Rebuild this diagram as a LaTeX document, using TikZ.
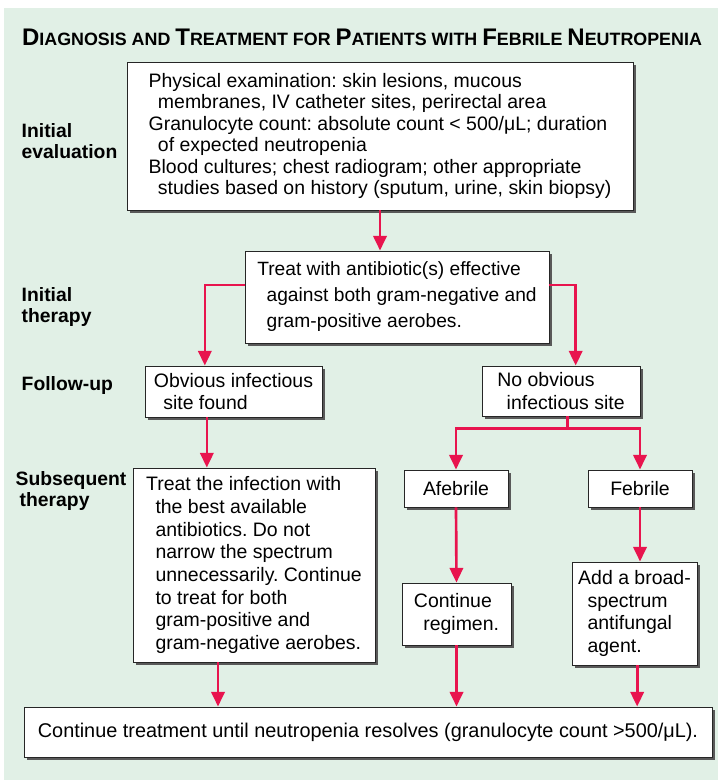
\documentclass[tikz,border=0pt]{standalone}
\usepackage{fontspec}
\setmainfont{Liberation Sans}
\usetikzlibrary{arrows.meta,shadows}

\definecolor{panelgreen}{RGB}{225,240,230}
\definecolor{flowred}{RGB}{232,20,78}

\tikzset{
  stepbox/.style={draw=black!85, line width=0.7pt, fill=white, align=left, inner sep=2pt,
    font=\fontsize{14.6}{17}\selectfont,
    drop shadow={shadow xshift=2pt, shadow yshift=-2pt, fill=black!65, opacity=1}},
  stagelabel/.style={anchor=west, align=left, font=\fontsize{14.5}{16}\selectfont\bfseries},
  flow/.style={draw=flowred, line width=2pt, -{Triangle[width=10pt,length=11pt]}},
  flowline/.style={draw=flowred, line width=2pt}
}

\newcommand{\bigc}[1]{{\fontsize{18}{20}\selectfont #1}}
\newcommand{\ind}{\hspace*{7pt}}

\begin{document}
\frenchspacing
\begin{tikzpicture}[x=0.75pt, y=-0.75pt]
  \useasboundingbox (0,0) rectangle (718,780);
  \fill[panelgreen] (4,8) rectangle (718,780);

  % title
  \node[font=\fontsize{13.4}{16}\selectfont\bfseries] (title) at (362,37)
    {\bigc{D}IAGNOSIS AND \bigc{T}REATMENT FOR \bigc{P}ATIENTS WITH \bigc{F}EBRILE \bigc{N}EUTROPENIA};

  % stage labels
  \node[stagelabel] (lbleval) at (17,141) {Initial\\evaluation};
  \node[stagelabel] (lbltherapy) at (17,307) {Initial\\therapy};
  \node[stagelabel] (lblfollow) at (17,385) {Follow-up};
  \node[stagelabel] (lblsubs) at (11,491) {Subsequent\\\hspace*{3pt}therapy};

  % boxes
  \node[stepbox, minimum width=379.5pt, minimum height=111pt,
        font=\fontsize{14.6}{16.1}\selectfont] (eval) at (380,136)
    {Physical examination: skin lesions, mucous\\
     \ind membranes, IV catheter sites, perirectal area\\
     Granulocyte count: absolute count < 500/μL; duration\\
     \ind of expected neutropenia\\
     Blood cultures; chest radiogram; other appropriate\\
     \ind studies based on history (sputum, urine, skin biopsy)};
  \node[stepbox, minimum width=228pt, minimum height=69pt,
        font=\fontsize{14.4}{19.5}\selectfont] (therapy) at (397,297)
    {Treat with antibiotic(s) effective\\
     \ind against both gram-negative and\\
     \ind gram-positive aerobes.};
  \node[stepbox, minimum width=132.75pt, minimum height=38.25pt] (obv) at (233.5,391.5)
    {Obvious infectious\\\ind site found};
  \node[stepbox, minimum width=118.5pt, minimum height=37.5pt] (nobv) at (561,391)
    {No obvious\\\ind infectious site};
  \node[stepbox, minimum width=181.5pt, minimum height=145.5pt] (treat) at (254,565)
    {Treat the infection with\\
     \ind the best available\\
     \ind antibiotics. Do not\\
     \ind narrow the spectrum\\
     \ind unnecessarily. Continue\\
     \ind to treat for both\\
     \ind gram-positive and\\
     \ind gram-negative aerobes.};
  \node[stepbox, minimum width=78pt, minimum height=27.75pt] (afeb) at (456,488.5) {Afebrile};
  \node[stepbox, minimum width=78pt, minimum height=27.75pt] (feb) at (640,488.5) {Febrile};
  \node[stepbox, minimum width=81.75pt, minimum height=46.5pt] (cont) at (456.5,614)
    {Continue\\\ind regimen.};
  \node[stepbox, minimum width=93.75pt, minimum height=77.25pt] (fung) at (634.5,613.5)
    {Add a broad-\\\ind spectrum\\\ind antifungal\\\ind agent.};
  \node[stepbox, minimum width=516pt, minimum height=37.5pt,
        font=\fontsize{14.9}{17}\selectfont] (final) at (368,732)
    {Continue treatment until neutropenia resolves (granulocyte count >500/μL).};

  % connectors
  \draw[flow] (eval.south) -- (eval.south |- therapy.north);
  \draw[flow] ([yshift=9pt]therapy.west) -| ([xshift=-21.5pt]obv.north);
  \draw[flow] ([yshift=9pt]therapy.east) -| ([xshift=11pt]nobv.north);
  \draw[flow] ([xshift=-20pt]obv.south) -- ([xshift=-20pt]obv.south |- treat.north);
  \draw[flowline] ([xshift=5pt]nobv.south) -- ++(0,12) coordinate (split);
  \draw[flow] (split) -| (afeb.north);
  \draw[flow] (split) -| (feb.north);
  \draw[flow] (afeb.south) -- (cont.north);
  \draw[flow] (feb.south) -- (feb.south |- fung.north);
  \draw[flow] ([xshift=-27pt]treat.south) -- ([xshift=-27pt]treat.south |- final.north);
  \draw[flow] (cont.south) -- (cont.south |- final.north);
  \draw[flow] ([xshift=2pt]fung.south) -- ([xshift=2pt]fung.south |- final.north);
\end{tikzpicture}
\end{document}
